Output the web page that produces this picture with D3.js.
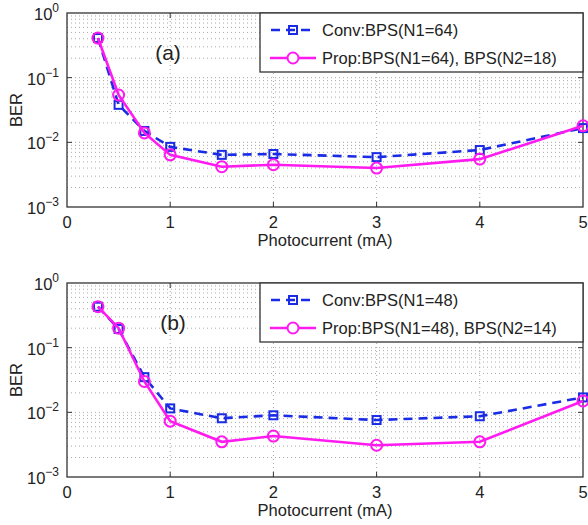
<!DOCTYPE html>
<html>
<head>
<meta charset="utf-8">
<script src="https://cdn.jsdelivr.net/npm/d3@7"></script>
<style>
  body { margin: 0; background: #fff; }
  text { font-family: "Liberation Sans", Arial, sans-serif; fill: #222; }
</style>
</head>
<body>
<svg id="chart" width="588" height="525"></svg>
<script>
(function() {
  'use strict';

  // photocurrent (mA)
  var current = [0.3, 0.5, 0.75, 1, 1.5, 2, 3, 4, 5];

  // panel (a)
  var convA = [0.41, 0.038, 0.015, 0.0085, 0.0064, 0.0066, 0.0059, 0.0076, 0.0166];
  var propA = [0.41, 0.054, 0.014, 0.0064, 0.0042, 0.0045, 0.0040, 0.0055, 0.018];
  var legendA = ['Conv:BPS(N1=64)', 'Prop:BPS(N1=64), BPS(N2=18)'];

  // panel (b)
  var convB = [0.43, 0.195, 0.035, 0.0115, 0.0081, 0.0090, 0.0076, 0.0087, 0.017];
  var propB = [0.43, 0.20, 0.030, 0.0073, 0.0035, 0.0043, 0.0031, 0.0035, 0.015];
  var legendB = ['Conv:BPS(N1=48)', 'Prop:BPS(N1=48), BPS(N2=14)'];

  var xTicks = [0, 1, 2, 3, 4, 5];
  var yTicks = [1e-3, 1e-2, 1e-1, 1];
  var yExp = ['\u22123', '\u22122', '\u22121', '0'];

  var svg = d3.select('#chart');
  var left = 67, right = 583, plotH = 194;
  var blue = '#1a2be6', pink = '#ff1af0';

  var x = d3.scaleLinear().domain([0, 5]).range([left, right]);

  function drawPanel(top, conv, prop, legend, tag, tagX) {
    var y = d3.scaleLog().domain([1e-3, 1]).range([top + plotH, top]);
    var g = svg.append('g');

    // grid
    var minor = [];
    for (var e = -3; e < 0; e++) {
      for (var m = 1; m <= 9; m++) minor.push(m * Math.pow(10, e));
    }
    g.selectAll('line.hg').data(minor.filter(function(v) { return v > 1e-3; }))
      .enter().append('line')
      .attr('x1', left).attr('x2', right)
      .attr('y1', function(d) { return y(d); }).attr('y2', function(d) { return y(d); })
      .style('stroke', '#aaa').style('stroke-width', 1).style('stroke-dasharray', '1,3');
    g.selectAll('line.vg').data([1, 2, 3, 4]).enter().append('line')
      .attr('x1', function(d) { return x(d); }).attr('x2', function(d) { return x(d); })
      .attr('y1', top).attr('y2', top + plotH)
      .style('stroke', '#aaa').style('stroke-width', 1).style('stroke-dasharray', '1,3');

    // inward ticks on all sides
    g.selectAll('line.xt').data([1, 2, 3, 4]).enter().append('line')
      .attr('x1', function(d) { return x(d); }).attr('x2', function(d) { return x(d); })
      .attr('y1', top + plotH).attr('y2', top + plotH - 5).style('stroke', '#333');
    g.selectAll('line.xt2').data([1, 2, 3, 4]).enter().append('line')
      .attr('x1', function(d) { return x(d); }).attr('x2', function(d) { return x(d); })
      .attr('y1', top).attr('y2', top + 5).style('stroke', '#333');
    g.selectAll('line.yt').data([1e-2, 1e-1]).enter().append('line')
      .attr('x1', left).attr('x2', left + 5)
      .attr('y1', function(d) { return y(d); }).attr('y2', function(d) { return y(d); })
      .style('stroke', '#333');
    g.selectAll('line.yt2').data([1e-2, 1e-1]).enter().append('line')
      .attr('x1', right).attr('x2', right - 5)
      .attr('y1', function(d) { return y(d); }).attr('y2', function(d) { return y(d); })
      .style('stroke', '#333');

    // frame
    g.append('rect').attr('x', left).attr('y', top)
      .attr('width', right - left).attr('height', plotH)
      .style('fill', 'none').style('stroke', '#333').style('stroke-width', 1.3);

    // tick labels
    g.selectAll('text.xl').data(xTicks).enter().append('text')
      .attr('x', function(d) { return x(d); }).attr('y', top + plotH + 21)
      .attr('text-anchor', 'middle').style('font-size', '16.5px')
      .text(function(d) { return d; });
    var yl = g.selectAll('text.yl').data(yTicks).enter().append('text')
      .attr('x', left - 8).attr('y', function(d) { return y(d) + 7; })
      .attr('text-anchor', 'end').style('font-size', '16.5px');
    yl.append('tspan').text('10');
    yl.append('tspan').attr('dy', -8).style('font-size', '12px')
      .text(function(d, i) { return yExp[i]; });

    // axis titles
    g.append('text').attr('transform', 'translate(22,' + (top + plotH / 2) + ') rotate(-90)')
      .attr('text-anchor', 'middle').style('font-size', '16.5px').text('BER');
    g.append('text').attr('x', 325).attr('y', top + plotH + 39)
      .attr('text-anchor', 'middle').style('font-size', '16.5px').text('Photocurrent (mA)');

    // panel tag
    g.append('text').attr('x', tagX).attr('y', top + 47)
      .attr('text-anchor', 'middle').style('font-size', '21px').text(tag);

    var line = d3.line()
      .x(function(d, i) { return x(current[i]); })
      .y(function(d) { return y(d); });

    // conventional
    g.append('path').datum(conv).attr('d', line)
      .style('fill', 'none').style('stroke', blue).style('stroke-width', 2.6)
      .style('stroke-dasharray', '9,6');
    g.selectAll('rect.cm').data(conv).enter().append('rect')
      .attr('x', function(d, i) { return x(current[i]) - 4; })
      .attr('y', function(d) { return y(d) - 4; })
      .attr('width', 8).attr('height', 8)
      .style('fill', 'none').style('stroke', blue).style('stroke-width', 2);

    // proposed
    g.append('path').datum(prop).attr('d', line)
      .style('fill', 'none').style('stroke', pink).style('stroke-width', 2.6);
    g.selectAll('circle.pm').data(prop).enter().append('circle')
      .attr('cx', function(d, i) { return x(current[i]); })
      .attr('cy', function(d) { return y(d); })
      .attr('r', 5.5)
      .style('fill', 'none').style('stroke', pink).style('stroke-width', 2);

    // legend
    var lg = g.append('g');
    lg.append('rect').attr('x', 260).attr('y', top).attr('width', right - 260).attr('height', 59)
      .style('fill', '#fff').style('stroke', '#333').style('stroke-width', 1.3);
    var r1 = top + 17, r2 = top + 45;
    lg.append('line').attr('x1', 270).attr('x2', 316).attr('y1', r1).attr('y2', r1)
      .style('stroke', blue).style('stroke-width', 2.6).style('stroke-dasharray', '9,6')
      .style('stroke-dashoffset', -1);
    lg.append('rect').attr('x', 289).attr('y', r1 - 4).attr('width', 8).attr('height', 8)
      .style('fill', 'none').style('stroke', blue).style('stroke-width', 2);
    lg.append('line').attr('x1', 270).attr('x2', 316).attr('y1', r2).attr('y2', r2)
      .style('stroke', pink).style('stroke-width', 2.6);
    lg.append('circle').attr('cx', 293).attr('cy', r2).attr('r', 5.5)
      .style('fill', '#fff').style('stroke', pink).style('stroke-width', 2);
    lg.append('text').attr('x', 322).attr('y', r1 + 6).style('font-size', '16.5px').text(legend[0]);
    lg.append('text').attr('x', 322).attr('y', r2 + 6).style('font-size', '16.5px').text(legend[1]);
  }

  drawPanel(13, convA, propA, legendA, '(a)', 168);
  drawPanel(283, convB, propB, legendB, '(b)', 173);
})();
</script>
</body>
</html>
